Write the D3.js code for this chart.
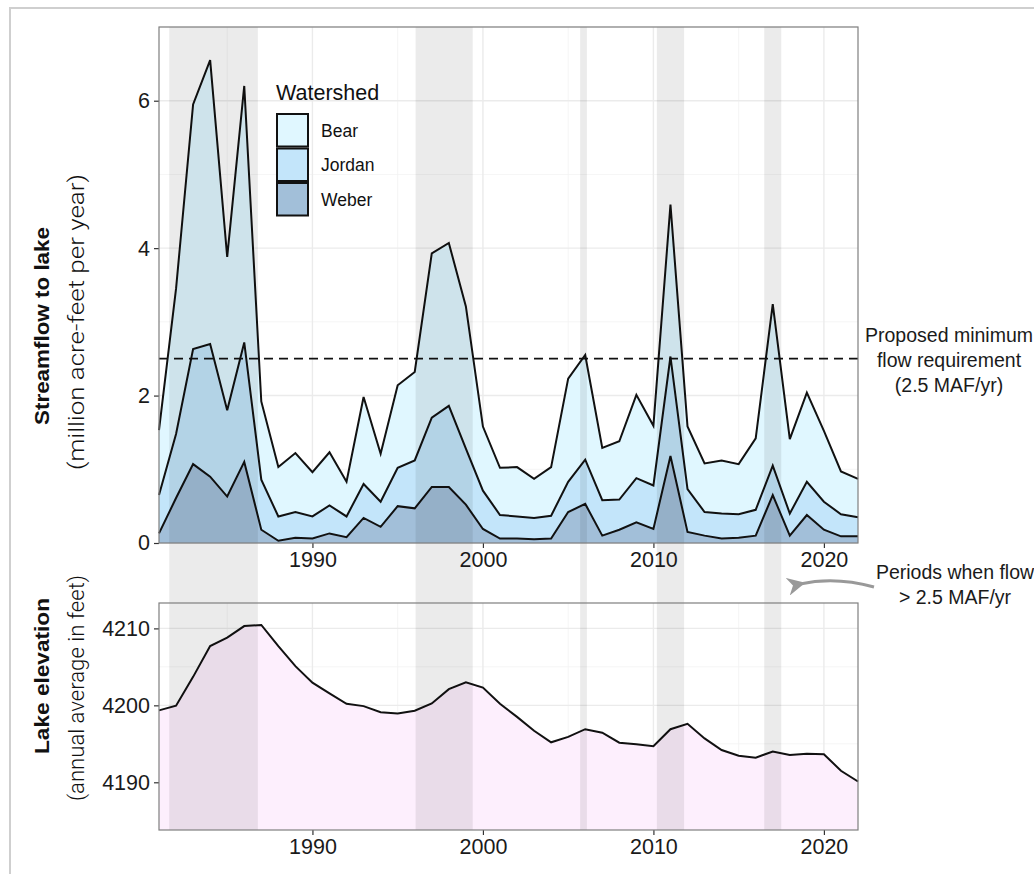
<!DOCTYPE html>
<html>
<head>
<meta charset="utf-8">
<script src="https://cdn.jsdelivr.net/npm/d3@7"></script>
<style>
  body { margin: 0; background: #fff; }
  svg { display: block; font-family: "Liberation Sans", Arial, sans-serif; }
  .grid-major { stroke: #ebebeb; stroke-width: 1.4; }
  .grid-minor { stroke: #f3f3f3; stroke-width: 0.8; }
  .tick-lab { fill: #1a1a1a; font-size: 21.5px; }
</style>
</head>
<body>
<script>
// data
const years = d3.range(1981, 2023)
const weber = [0.13, 0.61, 1.07, 0.90, 0.63, 1.10, 0.18, 0.03, 0.07, 0.06,
  0.13, 0.08, 0.34, 0.22, 0.50, 0.47, 0.76, 0.76, 0.52, 0.19,
  0.06, 0.06, 0.05, 0.06, 0.42, 0.53, 0.10, 0.18, 0.28, 0.19,
  1.18, 0.15, 0.10, 0.06, 0.07, 0.10, 0.65, 0.10, 0.38, 0.18, 0.09, 0.09]
const jordan = [0.52, 0.87, 1.56, 1.80, 1.17, 1.62, 0.68, 0.33, 0.35, 0.30,
  0.38, 0.28, 0.46, 0.34, 0.52, 0.65, 0.94, 1.10, 0.76, 0.52,
  0.32, 0.30, 0.29, 0.31, 0.41, 0.60, 0.48, 0.41, 0.60, 0.59,
  1.35, 0.58, 0.32, 0.34, 0.32, 0.35, 0.40, 0.30, 0.45, 0.38, 0.30, 0.26]
const bear = [0.88, 1.97, 3.32, 3.85, 2.08, 3.48, 1.06, 0.67, 0.80, 0.60,
  0.72, 0.47, 1.18, 0.65, 1.12, 1.20, 2.23, 2.21, 1.93, 0.87,
  0.64, 0.67, 0.53, 0.66, 1.40, 1.42, 0.71, 0.79, 1.13, 0.81,
  2.06, 0.85, 0.66, 0.72, 0.68, 0.97, 2.19, 1.01, 1.21, 0.96, 0.58, 0.52]
const elevation = [4199.35, 4199.95, 4203.7, 4207.7, 4208.8, 4210.3, 4210.45, 4207.7, 4205.1, 4202.95,
  4201.55, 4200.2, 4199.9, 4199.1, 4198.95, 4199.3, 4200.25, 4202.1, 4203.0, 4202.3,
  4200.2, 4198.5, 4196.7, 4195.2, 4195.9, 4196.9, 4196.45, 4195.15, 4194.95, 4194.7,
  4196.9, 4197.6, 4195.7, 4194.2, 4193.45, 4193.2, 4194.0, 4193.55, 4193.7, 4193.65, 4191.5, 4190.1]
// periods when flow > 2.5 MAF/yr
const highFlowStart = [1981.6, 1996.05, 2005.7, 2010.2, 2016.5]
const highFlowEnd = [1986.8, 1999.4, 2006.1, 2011.8, 2017.5]
const watersheds = ["Bear", "Jordan", "Weber"]
const watershedColors = ["#e0f7ff", "#c3e5fa", "#a2bfd9"]
const flowTicks = [0, 2, 4, 6]
const flowMinor = [1, 3, 5, 7]
const elevTicks = [4190, 4200, 4210]
const elevMinor = [4185, 4195, 4205]
const yearTicks = [1990, 2000, 2010, 2020]
const yearMinor = [1985, 1995, 2005, 2015]
const minFlow = 2.5

const W = 1034, H = 874
const svg = d3.select("body").append("svg").attr("width", W).attr("height", H)

// outer frame
svg.append("rect").attr("x", 10).attr("y", 8).attr("width", 1040).attr("height", 880)
  .attr("fill", "none").attr("stroke", "#cfcfcf").attr("stroke-width", 2)

const left = 159, right = 858
const x = d3.scaleLinear().domain([1981, 2022]).range([left, right])
const top1 = 27, bot1 = 543
const y1 = d3.scaleLinear().domain([0, 7]).range([bot1, top1])
const top2 = 603, bot2 = 830
const y2 = d3.scaleLinear().domain([4183.8, 4213.3]).range([bot2, top2])

function grid(g, y, majors, minors, top, bot) {
  g.selectAll(".gmy").data(minors).enter().append("line").attr("class", "grid-minor")
    .attr("x1", left).attr("x2", right).attr("y1", y).attr("y2", y)
  g.selectAll(".gmx").data(yearMinor).enter().append("line").attr("class", "grid-minor")
    .attr("x1", x).attr("x2", x).attr("y1", top).attr("y2", bot)
  g.selectAll(".gMy").data(majors).enter().append("line").attr("class", "grid-major")
    .attr("x1", left).attr("x2", right).attr("y1", y).attr("y2", y)
  g.selectAll(".gMx").data(yearTicks).enter().append("line").attr("class", "grid-major")
    .attr("x1", x).attr("x2", x).attr("y1", top).attr("y2", bot)
}

function axes(y, ticks, top, bot) {
  const ya = svg.append("g").attr("transform", `translate(${left},0)`)
    .call(d3.axisLeft(y).tickValues(ticks).tickSize(5).tickPadding(4).tickFormat(d3.format("d")))
  const xa = svg.append("g").attr("transform", `translate(0,${bot})`)
    .call(d3.axisBottom(x).tickValues(yearTicks).tickSize(5).tickPadding(4).tickFormat(d3.format("d")))
  for (const a of [ya, xa]) {
    a.select(".domain").remove()
    a.selectAll("line").attr("stroke", "#333").attr("stroke-width", 1.2)
    a.selectAll("text").attr("class", "tick-lab").attr("font-family", null).attr("font-size", null)
  }
  svg.append("rect").attr("x", left).attr("y", top).attr("width", right - left).attr("height", bot - top)
    .attr("fill", "none").attr("stroke", "#7f7f7f").attr("stroke-width", 1.2)
}

// ---- top panel: stacked streamflow
const g1 = svg.append("g")
grid(g1, y1, flowTicks, flowMinor, top1, bot1)

const rows = years.map((yr, i) => ({ year: yr, Weber: weber[i], Jordan: jordan[i], Bear: bear[i] }))
const stack = d3.stack().keys(["Weber", "Jordan", "Bear"])(rows)
const color = d3.scaleOrdinal().domain(watersheds).range(watershedColors)
const area1 = d3.area().x(d => x(d.data.year)).y0(d => y1(d[0])).y1(d => y1(d[1]))
const line1 = d3.line().x(d => x(d.data.year)).y(d => y1(d[1]))

g1.selectAll("path.layer").data(stack).enter().append("path").attr("class", "layer")
  .attr("d", area1).attr("fill", d => color(d.key))
g1.selectAll("path.edge").data(stack).enter().append("path").attr("class", "edge")
  .attr("d", line1).attr("fill", "none").attr("stroke", "#111").attr("stroke-width", 2)
  .attr("stroke-linejoin", "miter")

g1.append("line").attr("x1", left).attr("x2", right).attr("y1", y1(minFlow)).attr("y2", y1(minFlow))
  .attr("stroke", "#111").attr("stroke-width", 1.8).attr("stroke-dasharray", "9,6")

// ---- bottom panel: lake elevation
const g2 = svg.append("g")
grid(g2, y2, elevTicks, elevMinor, top2, bot2)
g2.append("path").datum(elevation)
  .attr("d", d3.area().x((d, i) => x(years[i])).y0(bot2).y1(d => y2(d)))
  .attr("fill", "#fdeffd")
g2.append("path").datum(elevation)
  .attr("d", d3.line().x((d, i) => x(years[i])).y(d => y2(d)))
  .attr("fill", "none").attr("stroke", "#111").attr("stroke-width", 2)

// high flow periods, shaded across both panels
svg.selectAll("rect.band").data(highFlowStart).enter().append("rect").attr("class", "band")
  .attr("x", d => x(d)).attr("width", (d, i) => x(highFlowEnd[i]) - x(d))
  .attr("y", top1).attr("height", bot2 - top1)
  .attr("fill", "#000").attr("opacity", 0.08)

axes(y1, flowTicks, top1, bot1)
axes(y2, elevTicks, top2, bot2)

// legend
const lg = svg.append("g")
lg.append("text").attr("x", 276).attr("y", 100).attr("font-size", 21.5).attr("fill", "#111").text("Watershed")
lg.selectAll("rect").data(watersheds).enter().append("rect")
  .attr("x", 277).attr("y", (d, i) => 114 + i * 34.5).attr("width", 31).attr("height", 32.5)
  .attr("fill", d => color(d)).attr("stroke", "#111").attr("stroke-width", 2)
lg.selectAll("text.lab").data(watersheds).enter().append("text").attr("class", "lab")
  .attr("x", 321).attr("y", (d, i) => 130.5 + i * 34.5).attr("dy", "0.35em")
  .attr("font-size", 17.5).attr("fill", "#111").text(d => d)

// axis titles
function vTitle(cx, cy, txt, len, weight, family, size) {
  svg.append("text").attr("transform", `translate(${cx},${cy}) rotate(-90)`)
    .attr("text-anchor", "middle").attr("dy", "0.35em")
    .attr("font-size", size).attr("font-weight", weight).attr("font-family", family)
    .attr("textLength", len).attr("lengthAdjust", "spacingAndGlyphs")
    .attr("fill", "#111").text(txt)
}
vTitle(42, 326, "Streamflow to lake", 198, "bold", "Liberation Sans", 21)
vTitle(76, 322, "(million acre-feet per year)", 296, 300, "Roboto", 22)
vTitle(42, 676, "Lake elevation", 156, "bold", "Liberation Sans", 21)
vTitle(76, 688, "(annual average in feet)", 226, 300, "Roboto", 22)

// annotations
const ann = svg.append("g").attr("text-anchor", "middle").attr("font-size", 19.5).attr("fill", "#1a1a1a")
const annLines = ["Proposed minimum", "flow requirement", "(2.5 MAF/yr)"]
ann.selectAll("text.a1").data(annLines).enter().append("text").attr("class", "a1")
  .attr("x", 949).attr("y", (d, i) => 335 + i * 25).attr("dy", "0.35em").text(d => d)
const ann2 = ["Periods when flow", "> 2.5 MAF/yr"]
ann.selectAll("text.a2").data(ann2).enter().append("text").attr("class", "a2")
  .attr("x", 955).attr("y", (d, i) => 572 + i * 25).attr("dy", "0.35em").text(d => d)

svg.append("defs").append("marker").attr("id", "arrow").attr("viewBox", "0 0 10 10")
  .attr("refX", 3).attr("refY", 5).attr("markerWidth", 6).attr("markerHeight", 6)
  .attr("markerUnits", "strokeWidth").attr("orient", "auto")
  .append("path").attr("d", "M10,0 L0,5 L10,10 L7,5 Z").attr("fill", "#999")
svg.append("path").attr("d", "M 874 587 Q 835 576 800 584")
  .attr("fill", "none").attr("stroke", "#999").attr("stroke-width", 3)
  .attr("marker-end", "url(#arrow)")
</script>
</body>
</html>
